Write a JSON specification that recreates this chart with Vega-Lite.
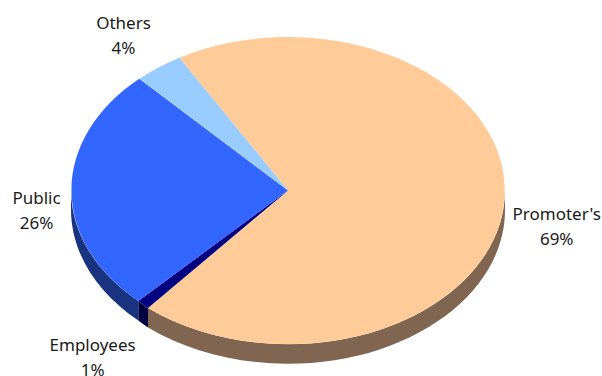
{
  "$schema": "https://vega.github.io/schema/vega-lite/v6.json",
  "width": 602,
  "height": 376,
  "padding": 0,
  "autosize": "none",
  "background": "white",
  "view": {"stroke": null},
  "data": {
    "values": [
      {"holder": "Promoter's", "share": 69},
      {"holder": "Employees", "share": 1},
      {"holder": "Public", "share": 26},
      {"holder": "Others", "share": 4}
    ]
  },
  "layer": [
    {
      "description": "Side wall of the tilted pie",
      "transform": [{"filter": "datum.holder !== 'Others'"}],
      "mark": {"type": "point", "filled": true, "size": 4, "opacity": 1, "strokeWidth": 0},
      "encoding": {
        "shape": {
          "field": "holder",
          "type": "nominal",
          "legend": null,
          "scale": {
            "domain": ["Promoter's", "Employees", "Public"],
            "range": [
              "M-153,120 A217,153.5 0 0 0 204,2.5 L204,22 A217,153.5 0 0 1 -153,139.5 Z",
              "M-153,120 A217,153.5 0 0 1 -162.7,113 L-162.7,132.5 A217,153.5 0 0 0 -153,139.5 Z",
              "M-230,2.5 A217,153.5 0 0 0 -162.7,113 L-162.7,132.5 A217,153.5 0 0 1 -230,22 Z"
            ]
          }
        },
        "color": {
          "field": "holder",
          "type": "nominal",
          "legend": null,
          "scale": {
            "domain": ["Promoter's", "Employees", "Public"],
            "range": ["#806650", "#000040", "#1A3380"]
          }
        }
      }
    },
    {
      "description": "Top face wedges",
      "mark": {"type": "point", "filled": true, "size": 4, "opacity": 1, "strokeWidth": 0},
      "encoding": {
        "shape": {
          "field": "holder",
          "type": "nominal",
          "legend": null,
          "scale": {
            "domain": ["Promoter's", "Employees", "Public", "Others"],
            "range": [
              "M-13,2.5 L-121.7,-130.3 A217,153.5 0 1 1 -153,120 Z",
              "M-13,2.5 L-153,120 A217,153.5 0 0 1 -162.7,113 Z",
              "M-13,2.5 L-162.7,113 A217,153.5 0 0 1 -161.7,-109.3 Z",
              "M-13,2.5 L-161.7,-109.3 A217,153.5 0 0 1 -121.7,-130.3 Z"
            ]
          }
        },
        "color": {
          "field": "holder",
          "type": "nominal",
          "legend": null,
          "scale": {
            "domain": ["Promoter's", "Employees", "Public", "Others"],
            "range": ["#FFCC99", "#000080", "#3366FF", "#99CCFF"]
          }
        }
      }
    },
    {
      "description": "Holder name and share beside each wedge",
      "transform": [{"calculate": "datum.holder + '\\n' + datum.share + '%'", "as": "label"}],
      "mark": {
        "type": "text",
        "font": "Noto Sans",
        "fontSize": 17,
        "color": "#1a1a1a",
        "align": "center",
        "baseline": "middle",
        "lineBreak": "\n",
        "lineHeight": 25
      },
      "encoding": {
        "x": {
          "field": "share",
          "type": "quantitative",
          "axis": null,
          "scale": {"domain": [1, 4, 26, 69], "range": [92.6, 123.5, 36.5, 556.7], "nice": false, "zero": false}
        },
        "y": {
          "field": "share",
          "type": "quantitative",
          "axis": null,
          "scale": {"domain": [1, 4, 26, 69], "range": [346, 24, 198.5, 215], "nice": false, "zero": false}
        },
        "text": {"field": "label", "type": "nominal"}
      }
    }
  ],
  "resolve": {"scale": {"shape": "independent", "color": "independent"}}
}
